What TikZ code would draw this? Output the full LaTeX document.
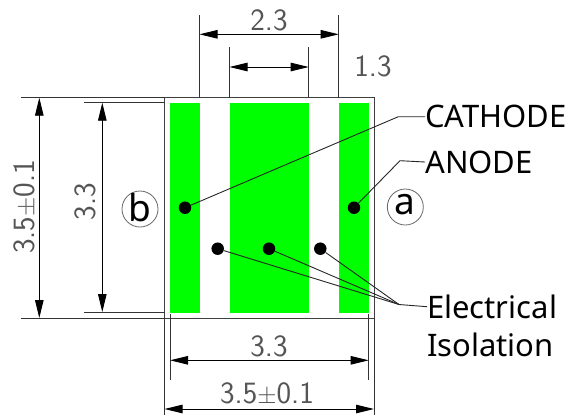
\documentclass[tikz,border=0pt]{standalone}
\usepackage{fontspec}
\setmainfont{Noto Sans}
\setsansfont{Latin Modern Sans}
\usetikzlibrary{arrows.meta}
\definecolor{pad}{HTML}{00FF00}
\definecolor{cadgray}{HTML}{555555}
\tikzset{
  pad strip/.style={fill=pad,draw=none},
  body/.style={draw=black!75,line width=1bp},
  extline/.style={draw=black!80,line width=0.9bp},
  dimline/.style={draw=black,line width=0.9bp,{Triangle[length=18bp,width=8.5bp]}-{Triangle[length=18bp,width=8.5bp]}},
  cadtext/.style={text=cadgray,font=\sffamily\fontsize{31bp}{31bp}\selectfont,inner sep=0pt},
  label/.style={text=black,font=\fontsize{31bp}{36bp}\selectfont,inner sep=0pt,anchor=west},
  spot/.style={circle,fill=black,inner sep=0pt,minimum size=12.5bp},
  leader/.style={draw=black!85,line width=0.9bp},
  view/.style={circle,draw=black!60,line width=0.8bp,minimum size=36bp,inner sep=0pt},
  viewtext/.style={text=black,inner sep=0pt,font=\fontsize{37bp}{37bp}\selectfont},
}
\begin{document}
\begin{tikzpicture}[x=1bp,y=-1bp]
\useasboundingbox (0,0) rectangle (576,415);
% pads
\fill[pad strip] (169.5,102.7) rectangle (200,313);
\fill[pad strip] (229.5,102.7) rectangle (309,313);
\fill[pad strip] (338.5,102.7) rectangle (369.3,313);
% body
\draw[body] (164.5,97.7) rectangle (374,318);
% coordinates
\coordinate (t1) at (199.5,15); \coordinate (t1b) at (199.5,97.7);
\coordinate (t2) at (338.7,15); \coordinate (t2b) at (338.7,97.7);
\coordinate (i1) at (229.5,47); \coordinate (i1b) at (229.5,97.7);
\coordinate (i2) at (308.7,47); \coordinate (i2b) at (308.7,97.7);
\coordinate (l1) at (21,97.7);  \coordinate (l1b) at (164.5,97.7);
\coordinate (l2) at (21,318);   \coordinate (l2b) at (164.5,318);
\coordinate (m1) at (84,102.7); \coordinate (m1b) at (164.5,102.7);
\coordinate (m2) at (84,312);   \coordinate (m2b) at (164.5,312);
\coordinate (b1) at (170,314);  \coordinate (b1b) at (170,380);
\coordinate (b2) at (368.7,314);\coordinate (b2b) at (368.7,380);
\coordinate (o1) at (164.5,318);\coordinate (o1b) at (164.5,415);
\coordinate (o2) at (374,318);  \coordinate (o2b) at (374,415);
% extension lines
\foreach \a/\b in {t1/t1b,t2/t2b,i1/i1b,i2/i2b,l1/l1b,l2/l2b,m1/m1b,m2/m2b,b1/b1b,b2/b2b,o1/o1b,o2/o2b}
  \draw[extline] (\a) -- (\b);
% dimension lines
\coordinate (d23a) at (199.5,34.3); \coordinate (d23b) at (338.7,34.3);
\coordinate (d13a) at (229.5,67);   \coordinate (d13b) at (308.7,67);
\coordinate (dl1a) at (39.3,97.7);  \coordinate (dl1b) at (39.3,318);
\coordinate (dl2a) at (102.3,102.7);\coordinate (dl2b) at (102.3,312);
\coordinate (db1a) at (170,360.3);  \coordinate (db1b) at (368.7,360.3);
\coordinate (db2a) at (164.5,409);  \coordinate (db2b) at (374,409);
\foreach \a/\b in {d23a/d23b,d13a/d13b,dl1a/dl1b,dl2a/dl2b,db1a/db1b,db2a/db2b}
  \draw[dimline] (\a) -- (\b);
% dimension texts
\node[cadtext] (t23) at (269,20) {2.3};
\node[cadtext] (t13) at (373,66) {1.3};
\node[cadtext] (tb33) at (269,346) {3.3};
\node[cadtext] (tb35) at (267,394) {3.5$\pm$0.1};
\node[cadtext,rotate=90] (tl35) at (25,207) {3.5$\pm$0.1};
\node[cadtext,rotate=90] (tl33) at (85,201.5) {3.3};
% view marks
\node[view] (vb) at (140,209) {};
\node[viewtext] (vbt) at (140,208) {b};
\node[view] (va) at (405.3,207) {};
\node[viewtext] (vat) at (405.3,205) {a};
% spots
\node[spot] (cath) at (185,207.7) {};
\node[spot] (anod) at (354,207.7) {};
\node[spot] (iso1) at (217.7,248.7) {};
\node[spot] (iso2) at (269,248.7) {};
\node[spot] (iso3) at (320.3,248.7) {};
% labels
\node[label] (lc) at (425,116.7) {CATHODE};
\node[label] (la) at (425,162) {ANODE};
\node[label] (le) at (427,306.7) {Electrical};
\node[label] (li) at (427,345) {Isolation};
% leaders
\coordinate (kc) at (398.3,116.7);
\coordinate (ka) at (400,160.7);
\coordinate (ke) at (399,304.5);
\draw[leader] (cath) -- (kc) -- (lc.west);
\draw[leader] (anod) -- (ka) -- (la.west);
\draw[leader] (iso1) -- (ke);
\draw[leader] (iso2) -- (ke);
\draw[leader] (iso3) -- (ke);
\draw[leader] (ke) -- (le.west);
\end{tikzpicture}
\end{document}
